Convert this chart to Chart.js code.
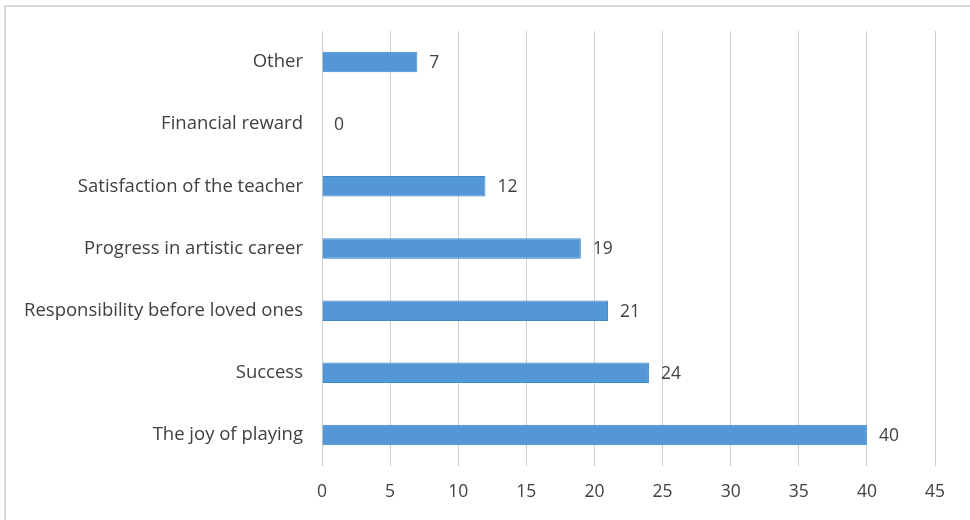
<!DOCTYPE html>
<html>
<head>
<meta charset="utf-8">
<script src="https://cdn.jsdelivr.net/npm/chart.js@4.4.1/dist/chart.umd.min.js"></script>
<style>
  html, body { margin: 0; padding: 0; background: #fff; overflow: hidden; }
  #wrap { position: relative; width: 970px; height: 520px; }
  #frame {
    position: absolute; left: 4px; top: 5px; width: 1000px; height: 600px;
    border-top: 2px solid #d9d9d9; border-left: 2px solid #d9d9d9;
    pointer-events: none;
  }
  canvas { position: absolute; left: 0; top: 0; }
</style>
</head>
<body>
<div id="wrap">
  <canvas id="chart" width="970" height="520"></canvas>
  <div id="frame"></div>
</div>
<script>
var categories = [
  'Other',
  'Financial reward',
  'Satisfaction of the teacher',
  'Progress in artistic career',
  'Responsibility before loved ones',
  'Success',
  'The joy of playing'
]
var counts = [7, 0, 12, 19, 21, 24, 40]
var xTicks = [0, 5, 10, 15, 20, 25, 30, 35, 40, 45]

var FONT = "'Open Sans', 'Liberation Sans', sans-serif"
var TEXT_COLOR = '#404040'

// writes the count just past the end of each bar
var valueLabels = {
  id: 'valueLabels',
  afterDatasetsDraw(chart) {
    var ctx = chart.ctx
    var meta = chart.getDatasetMeta(0)
    ctx.save()
    ctx.font = '17.5px ' + FONT
    ctx.fillStyle = TEXT_COLOR
    ctx.textAlign = 'left'
    ctx.textBaseline = 'middle'
    meta.data.forEach((bar, i) => {
      ctx.fillText(String(counts[i]), bar.x + 12, bar.y + 1)
    })
    ctx.restore()
  }
}

new Chart(document.getElementById('chart'), {
  type: 'bar',
  data: {
    labels: categories,
    datasets: [{
      data: counts,
      backgroundColor: '#5397d6',
      borderColor: '#3a88d0',
      borderWidth: 1,
      categoryPercentage: 1,
      barPercentage: 0.33
    }]
  },
  options: {
    indexAxis: 'y',
    responsive: false,
    animation: false,
    layout: {
      padding: { top: 31, right: 35, bottom: 0, left: 0 }
    },
    plugins: {
      legend: { display: false },
      tooltip: { enabled: false }
    },
    scales: {
      x: {
        min: 0,
        max: 45,
        afterBuildTicks: (scale) => {
          scale.ticks = xTicks.map(v => ({ value: v }))
        },
        afterFit: (scale) => { scale.height = 54 },
        grid: { color: '#cfcfcf', lineWidth: 1, drawTicks: false },
        border: { display: false },
        ticks: {
          padding: 16,
          color: TEXT_COLOR,
          font: { family: FONT, size: 17.5 }
        }
      },
      y: {
        afterFit: (scale) => { scale.width = 322 },
        grid: { display: false, drawTicks: false },
        border: { display: false },
        ticks: {
          padding: 19,
          color: TEXT_COLOR,
          font: { family: FONT, size: 18.5 }
        }
      }
    }
  },
  plugins: [valueLabels]
})
</script>
</body>
</html>
